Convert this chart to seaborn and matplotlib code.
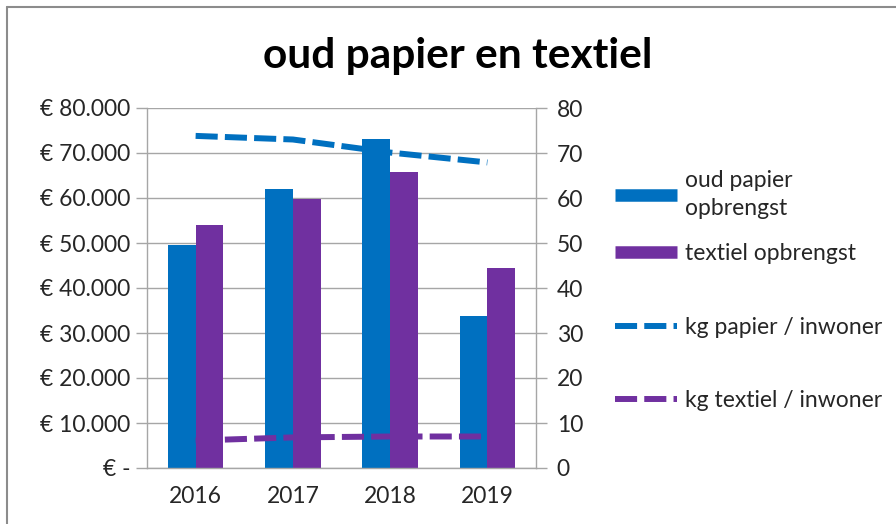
import numpy as np
import pandas as pd
import matplotlib
matplotlib.use('Agg')
import matplotlib.pyplot as plt
import matplotlib.ticker as mticker
from matplotlib.lines import Line2D
import seaborn as sns

# data
jaren = ['2016', '2017', '2018', '2019']
papier_opbrengst = [49600, 61900, 73000, 33800]
textiel_opbrengst = [53900, 59800, 65800, 44400]
kg_papier = [73.8, 73.0, 70.1, 67.9]
kg_textiel = [6.1, 6.8, 7.0, 7.0]

reeksen = ['oud papier\nopbrengst', 'textiel opbrengst']
lijn_labels = ['kg papier / inwoner', 'kg textiel / inwoner']

blauw = '#0070C0'
paars = '#7030A0'
grijs = '#A6A6A6'
tekst = '#262626'
fs = 16.5

sns.set_style('white')
plt.rcParams['font.family'] = ['Lato', 'DejaVu Sans']
plt.rcParams['text.color'] = tekst

df = pd.DataFrame({
    'jaar': jaren * 2,
    'opbrengst': papier_opbrengst + textiel_opbrengst,
    'soort': [reeksen[0]] * 4 + [reeksen[1]] * 4,
})

fig = plt.figure(figsize=(8.96, 5.24), dpi=100)
ax = fig.add_axes([147 / 896, 1 - 468 / 524, (536 - 147) / 896, (468 - 108) / 524])

sns.barplot(data=df, x='jaar', y='opbrengst', hue='soort', palette=[blauw, paars],
            width=0.57, saturation=1, linewidth=0, legend=False, ax=ax)

ax.set_ylim(0, 80000)
ax.set_xlim(-0.5, 3.5)
ax.set_yticks(np.arange(0, 80001, 10000))
ax.yaxis.set_major_formatter(mticker.FuncFormatter(
    lambda v, p: '€ -' if v == 0 else '€ ' + f'{int(v):,}'.replace(',', '.')))
ax.set_xticks(np.arange(-0.5, 4, 1))
ax.set_xticklabels([])
ax.set_xticks(np.arange(4), minor=True)
ax.set_xticklabels(jaren, minor=True)
ax.tick_params(axis='x', which='minor', length=0, pad=13, labelsize=fs, labelcolor=tekst)
ax.tick_params(axis='x', which='major', direction='out', length=8, width=1, color=grijs)
ax.tick_params(axis='y', direction='out', length=8, width=1, color=grijs,
               labelsize=fs, labelcolor=tekst, pad=4)
ax.set_xlabel('')
ax.set_ylabel('')
ax.yaxis.grid(True, color=grijs, lw=1)
ax.set_axisbelow(True)
for s in ['left', 'bottom']:
    ax.spines[s].set_color(grijs)
    ax.spines[s].set_linewidth(1)
ax.spines['top'].set_visible(False)
ax.spines['right'].set_visible(False)

ax2 = ax.twinx()
x = np.arange(len(jaren))
for waarden, kleur in [(kg_papier, blauw), (kg_textiel, paars)]:
    sns.lineplot(x=x, y=waarden, color=kleur, linewidth=4.3, ax=ax2)
    lijn = ax2.lines[-1]
    lijn.set_dashes((3.7, 1.2))
    lijn.set_dash_capstyle('butt')
ax2.set_ylim(0, 80)
ax2.set_yticks(np.arange(0, 81, 10))
ax2.tick_params(axis='y', direction='out', length=8, width=1, color=grijs,
                labelsize=fs, labelcolor=tekst, pad=7)
for s in ['left', 'top', 'bottom']:
    ax2.spines[s].set_visible(False)
ax2.spines['right'].set_color(grijs)
ax2.spines['right'].set_linewidth(1)

# legenda
balk_handles = [Line2D([], [], color=blauw, lw=9, solid_capstyle='butt'),
                Line2D([], [], color=paars, lw=9, solid_capstyle='butt')]
leg1 = fig.legend(balk_handles, reeksen, loc='upper left', bbox_to_anchor=(615 / 896, 1 - 170 / 524),
                  frameon=False, fontsize=fs, handlelength=2.7, handletextpad=0.35,
                  labelspacing=1.05, borderaxespad=0, borderpad=0)
lijn_handles = [Line2D([], [], color=blauw, lw=4.3, dashes=(3.7, 1.2), dash_capstyle='butt'),
                Line2D([], [], color=paars, lw=4.3, dashes=(3.7, 1.2), dash_capstyle='butt')]
leg2 = fig.legend(lijn_handles, lijn_labels, loc='upper left', bbox_to_anchor=(615 / 896, 1 - 317 / 524),
                  frameon=False, fontsize=fs, handlelength=2.7, handletextpad=0.35,
                  labelspacing=2.26, borderaxespad=0, borderpad=0)
for t in leg1.get_texts() + leg2.get_texts():
    t.set_color(tekst)
leg1.get_texts()[0].set_linespacing(1.4)

fig.text(458 / 896, 1 - 56 / 524, 'oud papier en textiel', ha='center', va='center',
         fontsize=30.5, fontweight='bold', color='black')

# rand van de grafiek
fig.add_artist(plt.Line2D([7 / 896, 7 / 896], [0, 1 - 7 / 524], transform=fig.transFigure,
                          color='#8C8C8C', lw=1.5))
fig.add_artist(plt.Line2D([7 / 896, 1], [1 - 7 / 524, 1 - 7 / 524], transform=fig.transFigure,
                          color='#8C8C8C', lw=1.5))

fig.savefig('out.png', dpi=100)
